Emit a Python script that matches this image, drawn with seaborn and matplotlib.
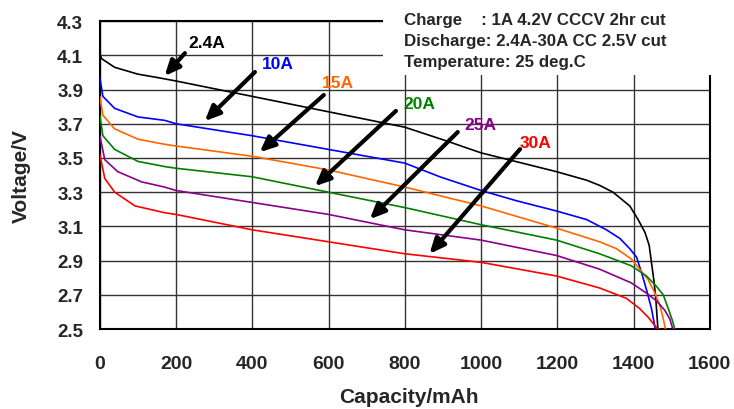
import numpy as np
import pandas as pd
import seaborn as sns
import matplotlib
matplotlib.use("Agg")
import matplotlib.pyplot as plt
from matplotlib.patches import Rectangle

# discharge curves (capacity mAh, voltage V)
cap_24 = [0, 5, 39, 100, 152, 200, 400, 600, 800, 909, 1000, 1198, 1277, 1311, 1346, 1390, 1412, 1430,
          1441, 1447, 1453, 1458, 1464]
v_24 = [4.11, 4.08, 4.03, 3.99, 3.97, 3.95, 3.86, 3.77, 3.68, 3.60, 3.53, 3.42, 3.37, 3.34, 3.30, 3.22, 3.14, 3.065,
        2.99, 2.89, 2.79, 2.69, 2.50]

cap_10 = [0, 8, 39, 100, 170, 200, 400, 600, 800, 892, 1000, 1093, 1198, 1277, 1329, 1364, 1390, 1408,
          1421, 1434, 1447, 1457]
v_10 = [3.97, 3.86, 3.79, 3.74, 3.72, 3.70, 3.63, 3.55, 3.47, 3.39, 3.31, 3.25, 3.19, 3.14, 3.08, 3.03, 2.97, 2.92,
        2.83, 2.73, 2.62, 2.50]

cap_15 = [0, 8, 39, 100, 170, 200, 400, 600, 800, 1000, 1198, 1311, 1355, 1394, 1416, 1438, 1456, 1469,
          1478, 1484]
v_15 = [3.86, 3.75, 3.67, 3.61, 3.58, 3.57, 3.51, 3.43, 3.33, 3.22, 3.09, 3.01, 2.97, 2.91, 2.85, 2.79, 2.71, 2.64,
        2.56, 2.50]

cap_20 = [0, 8, 39, 100, 170, 200, 400, 600, 800, 1000, 1198, 1311, 1394, 1434, 1460, 1478, 1491, 1502, 1508]
v_20 = [3.75, 3.63, 3.55, 3.48, 3.45, 3.44, 3.39, 3.30, 3.21, 3.11, 3.02, 2.94, 2.87, 2.81, 2.75, 2.70, 2.62,
        2.55, 2.50]

cap_25 = [0, 13, 47, 110, 170, 200, 400, 600, 800, 1000, 1198, 1311, 1394, 1434, 1460, 1482, 1495, 1503]
v_25 = [3.63, 3.49, 3.42, 3.36, 3.33, 3.31, 3.24, 3.17, 3.08, 3.02, 2.93, 2.85, 2.77, 2.71, 2.665, 2.61, 2.56, 2.50]

cap_30 = [0, 13, 39, 92, 170, 200, 400, 600, 800, 1000, 1198, 1311, 1381, 1416, 1438, 1456, 1465]
v_30 = [3.52, 3.38, 3.30, 3.22, 3.18, 3.17, 3.08, 3.01, 2.94, 2.89, 2.81, 2.74, 2.68, 2.62, 2.57, 2.52, 2.50]

labels = ["2.4A", "10A", "15A", "20A", "25A", "30A"]
colors = ["black", "#0000ff", "#ff6600", "#008000", "#8b008b", "#ff0000"]

# arrow tail / head and label position for each current
arrow_tail = [(228, 4.125), (412, 4.014), (593, 3.879), (782, 3.786), (944, 3.663), (1107, 3.564)]
arrow_head = [(165, 3.967), (270, 3.704), (414, 3.523), (559, 3.324), (703, 3.131), (860, 2.927)]
label_pos = [(233, 4.177), (425, 4.055), (582, 3.943), (795, 3.821), (957, 3.698), (1102, 3.593)]

caps = [cap_24, cap_10, cap_15, cap_20, cap_25, cap_30]
volts = [v_24, v_10, v_15, v_20, v_25, v_30]
frames = []
for lab, c, v in zip(labels, caps, volts):
    frames.append(pd.DataFrame({"cap": c, "v": v, "rate": lab}))
df = pd.concat(frames, ignore_index=True)

sns.set_style("white")
plt.rcParams["font.family"] = ["Liberation Sans", "DejaVu Sans"]
plt.rcParams["font.weight"] = "bold"

fig = plt.figure(figsize=(7.34, 4.10), dpi=100)
ax = fig.add_axes([0.136, 0.195, 0.831, 0.751])

sns.lineplot(data=df, x="cap", y="v", hue="rate", palette=dict(zip(labels, colors)),
             sort=False, estimator=None, lw=1.2, legend=False, ax=ax, zorder=3)

ax.set_xlim(0, 1600)
ax.set_ylim(2.5, 4.3)
yt = np.round(np.arange(2.5, 4.31, 0.2), 1)
ax.set_xticks(np.arange(0, 1601, 200))
ax.set_yticks(yt)
ax.set_yticklabels([f"{t:.1f}" for t in yt])
ax.grid(True, color="#333333", lw=1.0)
ax.tick_params(axis="x", length=0, labelsize=14, pad=19)
ax.tick_params(axis="y", length=0, labelsize=13.5, pad=12)
for t in ax.get_xticklabels() + ax.get_yticklabels():
    t.set_fontweight("bold")
for s in ax.spines.values():
    s.set_color("black")
    s.set_linewidth(1.5)

ax.set_xlabel("Capacity/mAh", fontsize=15, fontweight="bold")
ax.set_ylabel("Voltage/V", fontsize=15, fontweight="bold")
ax.xaxis.set_label_coords(0.507, -0.22)
ax.xaxis.label.set_va("center")
ax.yaxis.set_label_coords(-0.128, 0.5)
ax.yaxis.label.set_va("center")

for lab, col, tail, head, lp in zip(labels, colors, arrow_tail, arrow_head, label_pos):
    ax.annotate("", xy=head, xytext=tail,
                arrowprops=dict(arrowstyle="-|>,head_length=0.9,head_width=0.4",
                                color="black", lw=3), zorder=5)
    ax.text(lp[0], lp[1], lab, color=col, fontsize=12.5, fontweight="bold",
            ha="left", va="center", zorder=6)

# white box holding the test conditions, covering the top-right corner
ax.add_patch(Rectangle((0.464, 0.825), 0.55, 0.19, transform=ax.transAxes,
                       facecolor="white", edgecolor="none", clip_on=False, zorder=7))
cond = ["Charge    : 1A 4.2V CCCV 2hr cut",
        "Discharge: 2.4A-30A CC 2.5V cut",
        "Temperature: 25 deg.C"]
cond_y = [1.006, 0.938, 0.870]
for line, yy in zip(cond, cond_y):
    ax.text(0.498, yy, line, transform=ax.transAxes, fontsize=12.2,
            fontweight="bold", ha="left", va="center", zorder=8)

fig.savefig("out.png", dpi=100)
